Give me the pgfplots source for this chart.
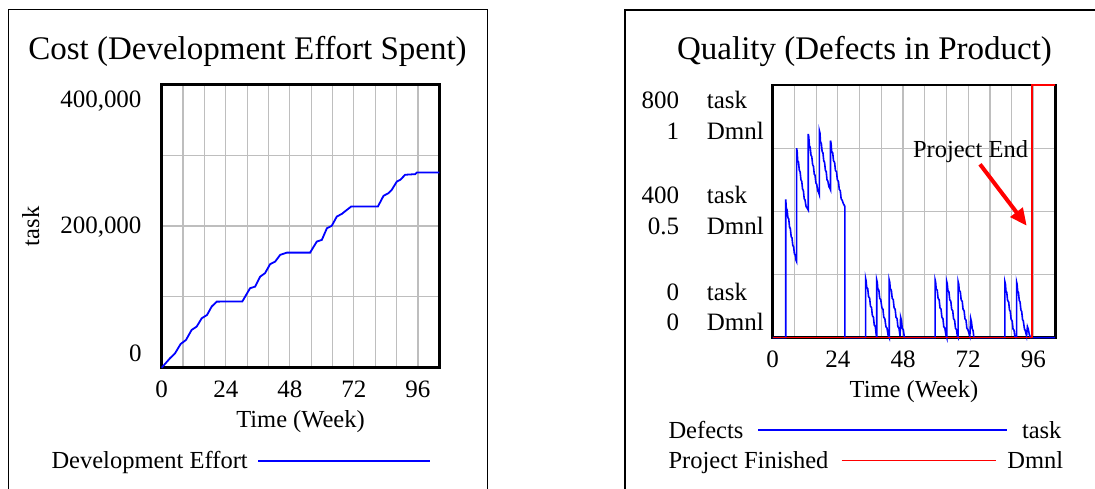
\documentclass[border=0pt]{standalone}
\usepackage{fontspec}
\setmainfont{Liberation Serif}
\usepackage{pgfplots}
\pgfplotsset{compat=1.18}
\usetikzlibrary{arrows.meta}
\definecolor{gridgray}{RGB}{190,190,190}
\definecolor{vblue}{RGB}{0,0,255}
\definecolor{vred}{RGB}{255,0,0}
\newcommand{\tickfont}{\fontsize{25}{30}\selectfont}
\newcommand{\labfont}{\fontsize{24.5}{29}\selectfont}
\newcommand{\titfont}{\fontsize{33}{40}\selectfont}
\pgfplotsset{
  vensim/.style={
    scale only axis,
    xmin=0, xmax=104,
    axis line style={line width=2.8pt, black},
    major tick length=0pt, minor tick length=0pt,
    grid=minor,
    minor grid style={gridgray, line width=1.2pt},
    minor xtick={8,16,24,32,40,48,56,64,72,80,88,96},
    xtick={0,24,48,72,96},
    xticklabels={0,24,48,72,96},
    scaled y ticks=false,
    tick label style={font=\tickfont},
    xticklabel style={anchor=base, inner sep=0pt, yshift=-30pt},
    xlabel={Time (Week)},
    xlabel style={font=\labfont, at={(axis description cs:0.5,0)}, anchor=base, inner sep=0pt, yshift=-60pt},
    clip=false,
  }
}
\begin{document}
\begin{tikzpicture}
\path[use as bounding box] (0pt,0pt) rectangle (1095pt,489pt);
% frames
\draw[line width=1pt] (8pt,-20pt) -- (8pt,479pt) -- (487.7pt,479pt) -- (487.7pt,-20pt);
\draw[line width=2pt] (625pt,-20pt) -- (625pt,479pt) -- (1120pt,479pt);

% ---------------- left chart ----------------
\node[font=\titfont, anchor=base] at (247.5pt,429pt) {Cost (Development Effort Spent)};
\begin{axis}[vensim,
  at={(161.7pt,121.3pt)}, anchor=south west,
  width=277.6pt, height=283.3pt,
  ymin=0, ymax=400000,
  minor ytick={100000,200000,300000},
  ytick={8470,189500,366700},
  yticklabels={0,{200,000},{400,000}},
  yticklabel style={anchor=base east, inner sep=0pt, xshift=-20pt},
]
\addplot[vblue, line width=1.8pt] coordinates {
(0,0) (3.1,13300) (5.0,20300) (7.1,33500) (9.1,39100) (11.2,53300) (13.1,58000)
(15.0,69800) (17.0,74500) (18.7,86200) (20.6,93300) (30.2,93500)
(33.1,112200) (35.0,114500) (36.9,128600) (38.7,133400) (40.6,146100) (42.5,149800)
(44.4,159300) (46.9,162500) (55.6,162500)
(58.1,178100) (60.0,180500) (61.9,197000) (63.7,200300) (65.6,213400) (67.5,217200)
(69.4,222900) (71.0,227600) (81.0,227600)
(83.1,242700) (85.0,246500) (86.2,251200) (88.1,262900) (89.4,265300) (91.2,272400)
(95.0,273300) (95.6,275600) (104,275600)
};
\end{axis}
\node[font=\labfont, rotate=90, anchor=base] at (39pt,262.7pt) {task};
\node[font=\labfont, anchor=base west] at (48pt,20pt) {Development Effort};
\draw[vblue, line width=1.5pt] (258pt,28pt) -- (430pt,28pt);

% ---------------- right chart ----------------
\node[font=\titfont, anchor=base] at (864.5pt,429pt) {Quality (Defects in Product)};
\begin{axis}[vensim,
  at={(772.7pt,151.3pt)}, anchor=south west,
  width=282.4pt, height=252.7pt,
  ymin=0, ymax=800,
  ytick={0,400,800},
  yticklabels={{},{},{}},
  minor ytick={200,400,600},
]
\addplot[vblue, line width=1.6pt] coordinates {
(0,0) (4.8,0)
(4.8,438) (5.0,410) (5.3,405) (5.6,380) (5.9,376) (6.2,350) (6.5,345) (6.8,320) (7.1,316) (7.4,292) (7.7,288) (8.0,265) (8.3,262) (8.6,245) (8.8,241)
(8.8,600) (9.0,590) (9.2,560) (9.5,556) (9.8,530) (10.1,525) (10.4,500) (10.7,495) (11.0,470) (11.3,466) (11.6,440) (11.9,436) (12.3,415) (12.7,410) (13.1,404)
(13.1,645) (13.3,635) (13.5,608) (13.8,603) (14.1,578) (14.4,573) (14.7,548) (15.0,543) (15.3,518) (15.6,514) (15.9,490) (16.2,486) (16.6,465) (16.9,460) (17.2,452)
(17.2,655) (17.4,648) (17.6,620) (17.9,615) (18.2,590) (18.5,585) (18.8,560) (19.1,555) (19.4,530) (19.7,526) (20.0,500) (20.3,496) (20.7,478) (21.0,474) (21.3,468)
(21.3,624) (21.5,615) (21.7,590) (22.1,585) (22.4,560) (22.8,555) (23.1,530) (23.5,525) (23.8,500) (24.2,495) (24.5,470) (24.9,465) (25.2,440) (25.6,435) (26.0,425) (26.6,415)
(26.6,0) (34.2,0)
(34.2,188) (34.4,180) (34.6,160) (35.0,155) (35.3,130) (35.7,125) (36.0,100) (36.4,95) (36.7,70) (37.1,65) (37.4,40) (37.8,35) (38.1,10) (38.3,0)
(38.3,183) (38.5,176) (38.7,155) (39.1,150) (39.4,125) (39.8,120) (40.2,95) (40.6,90) (40.9,65) (41.3,60) (41.7,35) (42.1,30) (42.5,8) (42.9,0)
(42.9,183) (43.1,176) (43.3,155) (43.7,150) (44.0,125) (44.4,120) (44.7,95) (45.1,90) (45.4,65) (45.8,60) (46.1,35) (46.5,30) (46.9,5) (47.1,65) (47.4,55) (47.7,30) (48.1,25) (48.5,0)
(59.8,0)
(59.8,183) (60.0,176) (60.2,155) (60.6,150) (60.9,125) (61.3,120) (61.6,95) (62.0,90) (62.3,65) (62.7,60) (63.0,35) (63.4,30) (63.8,8) (64.1,0)
(64.1,177) (64.3,170) (64.5,150) (64.9,145) (65.2,120) (65.6,115) (65.9,90) (66.3,85) (66.6,60) (67.0,55) (67.3,30) (67.7,25) (68.0,5) (68.3,0)
(68.3,177) (68.5,170) (68.7,150) (69.1,145) (69.4,120) (69.8,115) (70.1,90) (70.5,85) (70.8,60) (71.2,55) (71.5,30) (71.9,25) (72.6,5) (72.9,61) (73.2,50) (73.5,28) (73.8,22) (74.1,0)
(85.5,0)
(85.5,177) (85.7,170) (85.9,148) (86.2,143) (86.5,118) (86.9,113) (87.2,88) (87.5,83) (87.8,58) (88.2,53) (88.5,28) (88.9,23) (89.2,3) (89.5,0)
(89.8,0)
(89.8,177) (90.0,170) (90.2,148) (90.5,143) (90.8,118) (91.1,113) (91.4,88) (91.7,83) (92.0,58) (92.3,53) (92.7,28) (93.0,23) (93.5,5) (93.8,35) (94.1,28) (94.5,10) (95.0,0)
(104,0)
};
\end{axis}
\begin{axis}[
  at={(772.7pt,151.3pt)}, anchor=south west,
  width=282.4pt, height=252.7pt, scale only axis,
  xmin=0, xmax=104, ymin=0, ymax=1,
  hide axis, clip=false,
]
\addplot[vred, line width=1.5pt] coordinates {(0,0) (95.4,0) (95.4,1) (104,1)};
\end{axis}
% y labels of the right chart
\begin{scope}[font=\tickfont]
\node[anchor=base east] at (682.7pt,380.7pt) {800};
\node[anchor=base west] at (703.3pt,380.7pt) {task};
\node[anchor=base east] at (682.7pt,349.7pt) {1};
\node[anchor=base west] at (703.3pt,349.7pt) {Dmnl};
\node[anchor=base east] at (682.7pt,285.7pt) {400};
\node[anchor=base west] at (703.3pt,285.7pt) {task};
\node[anchor=base east] at (682.7pt,254.7pt) {0.5};
\node[anchor=base west] at (703.3pt,254.7pt) {Dmnl};
\node[anchor=base east] at (682.7pt,188pt) {0};
\node[anchor=base west] at (703.3pt,188pt) {task};
\node[anchor=base east] at (682.7pt,158pt) {0};
\node[anchor=base west] at (703.3pt,158pt) {Dmnl};
\end{scope}
% annotation
\node[font=\labfont, anchor=base] at (970.5pt,331.7pt) {Project End};
\draw[vred, line width=4pt, -{Triangle[length=17pt,width=15pt]}] (980pt,324.7pt) -- (1026.7pt,263.3pt);
% legend
\node[font=\labfont, anchor=base west] at (665pt,50.7pt) {Defects};
\node[font=\labfont, anchor=base east] at (1065pt,50.7pt) {task};
\draw[vblue, line width=1.5pt] (758.3pt,59pt) -- (1007.3pt,59pt);
\node[font=\labfont, anchor=base west] at (665pt,20.7pt) {Project Finished};
\node[font=\labfont, anchor=base east] at (1066.7pt,20.7pt) {Dmnl};
\draw[vred, line width=1.5pt] (841.7pt,28.3pt) -- (995.7pt,28.3pt);
\end{tikzpicture}
\end{document}
